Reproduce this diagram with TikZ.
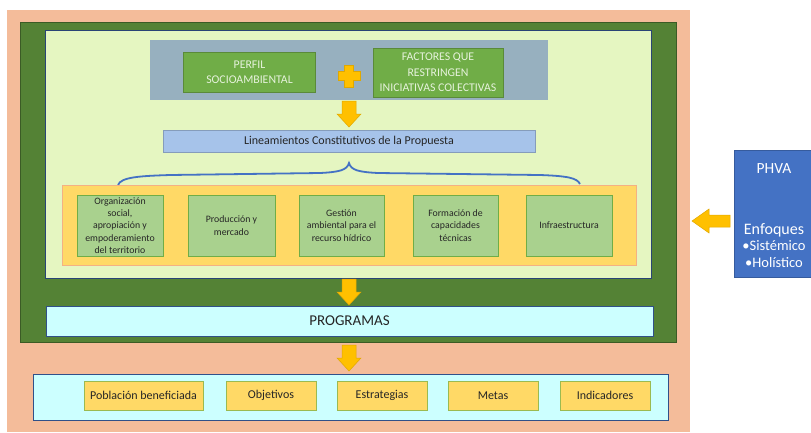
\documentclass[tikz,border=0pt]{standalone}
\usepackage{fontspec}
\setmainfont{Carlito}
\usetikzlibrary{calc}
\definecolor{salmon}{HTML}{F4BC9A}
\definecolor{dkgreen}{HTML}{548235}
\definecolor{ltgreen}{HTML}{E5F6C1}
\definecolor{grayblue}{HTML}{97B0BF}
\definecolor{boxgreen}{HTML}{70AD47}
\definecolor{gold}{HTML}{FFC000}
\definecolor{goldline}{HTML}{E0A800}
\definecolor{linblue}{HTML}{A6C3EA}
\definecolor{orangefill}{HTML}{FFD966}
\definecolor{orangeline}{HTML}{F4B183}
\definecolor{palegreen}{HTML}{A9D18E}
\definecolor{cyanfill}{HTML}{CCFFFF}
\definecolor{phvablue}{HTML}{4472C4}
\definecolor{txt}{HTML}{262626}
\definecolor{lighttxt}{HTML}{E6F2DC}
\begin{document}
\begin{tikzpicture}[x=1pt,y=-1pt,
  area/.style={inner sep=0pt, outer sep=0pt},
  greenbox/.style={area, fill=boxgreen, draw=boxgreen!80!black, line width=0.6pt, text=lighttxt, font=\fontsize{11.8}{15.5}\selectfont, align=center},
  pillar/.style={area, fill=palegreen, draw=boxgreen, line width=0.6pt, text=txt, font=\fontsize{9.8}{12.4}\selectfont, align=center, minimum height=61pt},
  yellowbox/.style={area, fill=orangefill, draw=boxgreen!70!orangefill, line width=0.6pt, text=txt, font=\fontsize{12}{14}\selectfont, minimum height=29pt, minimum width=90pt},
  downarr/.pic={\filldraw[fill=gold, draw=goldline, line width=0.5pt] (-7,0) -- (7,0) -- (7,13) -- (12,13) -- (0,26) -- (-12,13) -- (-7,13) -- cycle;},
  leftarr/.pic={\filldraw[fill=gold, draw=goldline, line width=0.5pt] (0,0) -- (17,-12) -- (17,-6) -- (38,-6) -- (38,6) -- (17,6) -- (17,12) -- cycle;}
]
\useasboundingbox[fill=white] (0,0) rectangle (811,432);
% containers
\node[area, fill=salmon, minimum width=683pt, minimum height=422pt] (salmon) at (348.5,221) {};
\node[area, fill=dkgreen, draw=dkgreen!70!black, line width=0.5pt, minimum width=656pt, minimum height=320pt] (dark) at (348,182) {};
\node[area, fill=ltgreen, draw=phvablue!60!black, line width=0.4pt, minimum width=606pt, minimum height=248pt] (light) at (348,154) {};
\node[area, fill=grayblue, minimum width=398pt, minimum height=60pt] (gray) at (349,70) {};
% top boxes
\node[greenbox, minimum width=132pt, minimum height=40pt] (perfil) at (249.5,72.5) {PERFIL\\SOCIOAMBIENTAL};
\node[greenbox, minimum width=130pt, minimum height=49pt] (factores) at (438,72.5) {FACTORES QUE\\RESTRINGEN\\INICIATIVAS COLECTIVAS};
\node[area, minimum size=22pt] (plus) at (349,76) {};
\filldraw[fill=gold, draw=goldline, line width=0.4pt] ($(plus.center)+(-4.5,-11)$) -- ++(9,0) -- ++(0,6.5) -- ++(6.5,0) -- ++(0,9) -- ++(-6.5,0) -- ++(0,6.5) -- ++(-9,0) -- ++(0,-6.5) -- ++(-6.5,0) -- ++(0,-9) -- ++(6.5,0) -- cycle;
% lineamientos
\node[area, fill=linblue, draw=linblue!80!black, line width=0.4pt, minimum width=372pt, minimum height=22pt, text=txt, font=\fontsize{12}{14}\selectfont] (lin) at (349,141) {Lineamientos Constitutivos de la Propuesta};
\pic at ($(gray.south)+(0,1)$) {downarr};
% brace
\draw[phvablue, line width=1.8pt] (118,185) .. controls (121,177) and (140,176) .. (170,175) -- (320,173) .. controls (340,172) and (347,170) .. (349,163) .. controls (351,170) and (358,172) .. (378,173) -- (540,175) .. controls (568,176) and (577,178) .. (580,184);
% orange band
\node[area, fill=orangefill, draw=orangeline, line width=1pt, minimum width=574pt, minimum height=80pt] (band) at (349,225) {};
\node[pillar, minimum width=86pt] (p1) at (120,225.5) {Organización\\social,\\apropiación y\\empoderamiento\\del territorio};
\node[pillar, minimum width=87pt] (p2) at (231.5,225.5) {Producción y\\mercado};
\node[pillar, minimum width=85pt] (p3) at (341.5,225.5) {Gestión\\ambiental para el\\recurso hídrico};
\node[pillar, minimum width=85pt] (p4) at (455.5,225.5) {Formación de\\capacidades\\técnicas};
\node[pillar, minimum width=86pt] (p5) at (569,225.5) {Infraestructura};
% programas
\node[area, fill=cyanfill, draw=phvablue!70!black, line width=0.6pt, minimum width=607pt, minimum height=30pt, text=txt, font=\fontsize{15}{17}\selectfont] (prog) at (349.5,321) {PROGRAMAS};
\pic at ($(light.south)+(1,1)$) {downarr};
% bottom
\node[area, fill=cyanfill, draw=phvablue!70!black, line width=0.6pt, minimum width=635pt, minimum height=46pt] (bottom) at (350.5,397) {};
\pic at ($(dark.south)+(1,3)$) {downarr};
\node[yellowbox, minimum width=119pt] (y1) at (143.5,395.5) {Población beneficiada};
\node[yellowbox] (y2) at (271,395.5) {Objetivos};
\node[yellowbox] (y3) at (382,395.5) {Estrategias};
\node[yellowbox] (y4) at (493,395.5) {Metas};
\node[yellowbox] (y5) at (605,395.5) {Indicadores};
% PHVA
\node[area, fill=phvablue, draw=phvablue!80!black, line width=0.5pt, minimum width=78pt, minimum height=127pt] (phva) at (773,213.5) {};
\node[area, text=white, font=\fontsize{15.5}{17}\selectfont, anchor=base] (phvat) at ($(phva.north)+(1,23)$) {PHVA};
\node[area, text=white, align=center, anchor=base, font=\fontsize{14.5}{16.5}\selectfont] (enf) at ($(phva.north)+(1,117)$) {{\fontsize{16}{16.5}\selectfont Enfoques}\\•Sistémico\\•Holístico};
\pic at ($(salmon.east)+(2,0)$) {leftarr};
\end{tikzpicture}
\end{document}
